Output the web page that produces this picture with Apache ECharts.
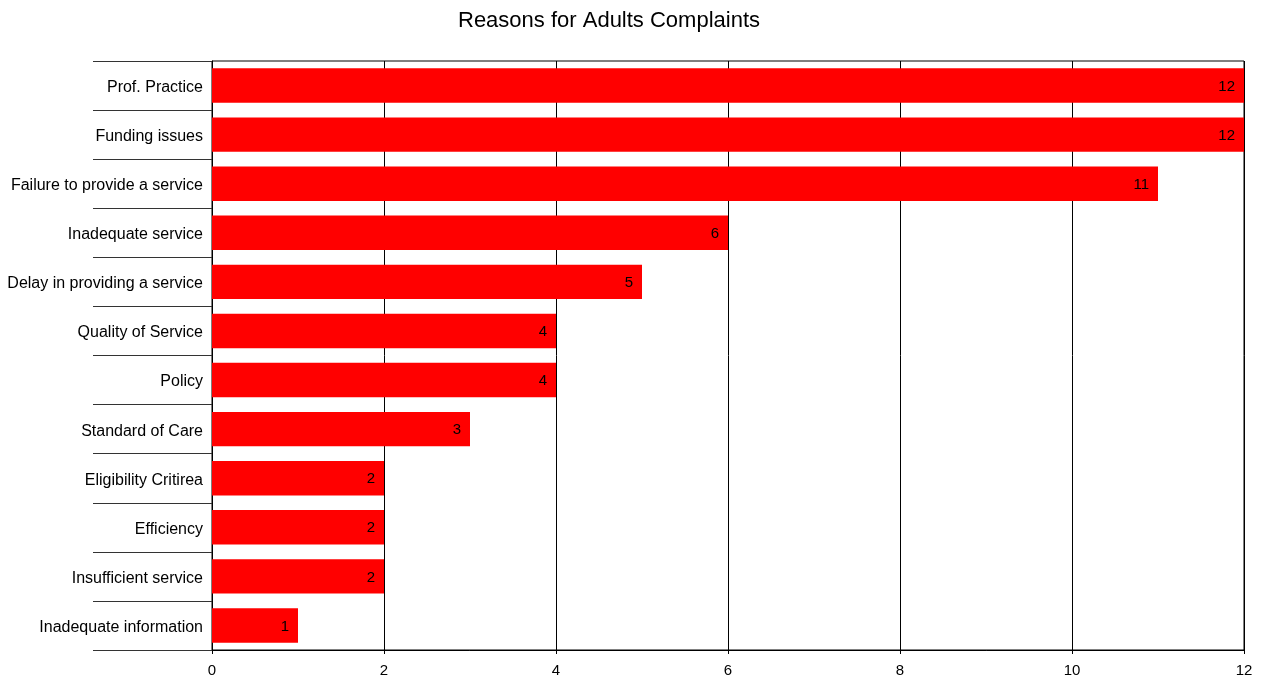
<!DOCTYPE html>
<html>
<head>
<meta charset="utf-8">
<script src="https://cdn.jsdelivr.net/npm/echarts@6/dist/echarts.min.js"></script>
<style>html,body{margin:0;padding:0;background:#fff;}#c{width:1267px;height:681px;}</style>
</head>
<body>
<div id="c"></div>
<script>
const categories = ["Prof. Practice","Funding issues","Failure to provide a service","Inadequate service","Delay in providing a service","Quality of Service","Policy","Standard of Care","Eligibility Critirea","Efficiency","Insufficient service","Inadequate information"];
const values = [12,12,11,6,5,4,4,3,2,2,2,1];
const xTicks = [0,2,4,6,8,10,12];

const chart = echarts.init(document.getElementById('c'), null, {renderer:'canvas'});
chart.setOption({
  animation:false,
  title:{text:'Reasons for Adults Complaints',left:453,top:5,textStyle:{fontFamily:'Liberation Sans, Arial',fontSize:22,fontWeight:'normal',color:'#000'}},
  grid:{left:212,right:23,top:61,bottom:31,show:true,borderColor:'#000',borderWidth:1},
  xAxis:{type:'value',min:xTicks[0],max:xTicks[xTicks.length-1],interval:2,
    axisLine:{show:true,lineStyle:{color:'#000'}},
    axisTick:{show:true,length:4,lineStyle:{color:'#000'}},
    axisLabel:{margin:13,color:'#000',fontFamily:'Liberation Sans, Arial',fontSize:15},
    splitLine:{show:true,lineStyle:{color:'#000',width:1}}},
  yAxis:{type:'category',data:categories,inverse:true,
    axisLine:{show:true,lineStyle:{color:'#000'}},
    axisTick:{show:true,length:119,lineStyle:{color:'#333'}},
    axisLabel:{margin:9,color:'#000',fontFamily:'Liberation Sans, Arial',fontSize:16,
      formatter:function(v){return '{a|'+v+'}';},
      rich:{a:{fontFamily:'Liberation Sans, Arial',fontSize:16,color:'#000',padding:[4,0,0,0]}}}},
  series:[{type:'bar',data:values,barCategoryGap:'30%',
    itemStyle:{color:'#ff0000'},
    label:{show:true,position:'insideRight',distance:9,offset:[0,1],color:'#000',fontFamily:'Liberation Sans, Arial',fontSize:15}}]
});
</script>
</body>
</html>
